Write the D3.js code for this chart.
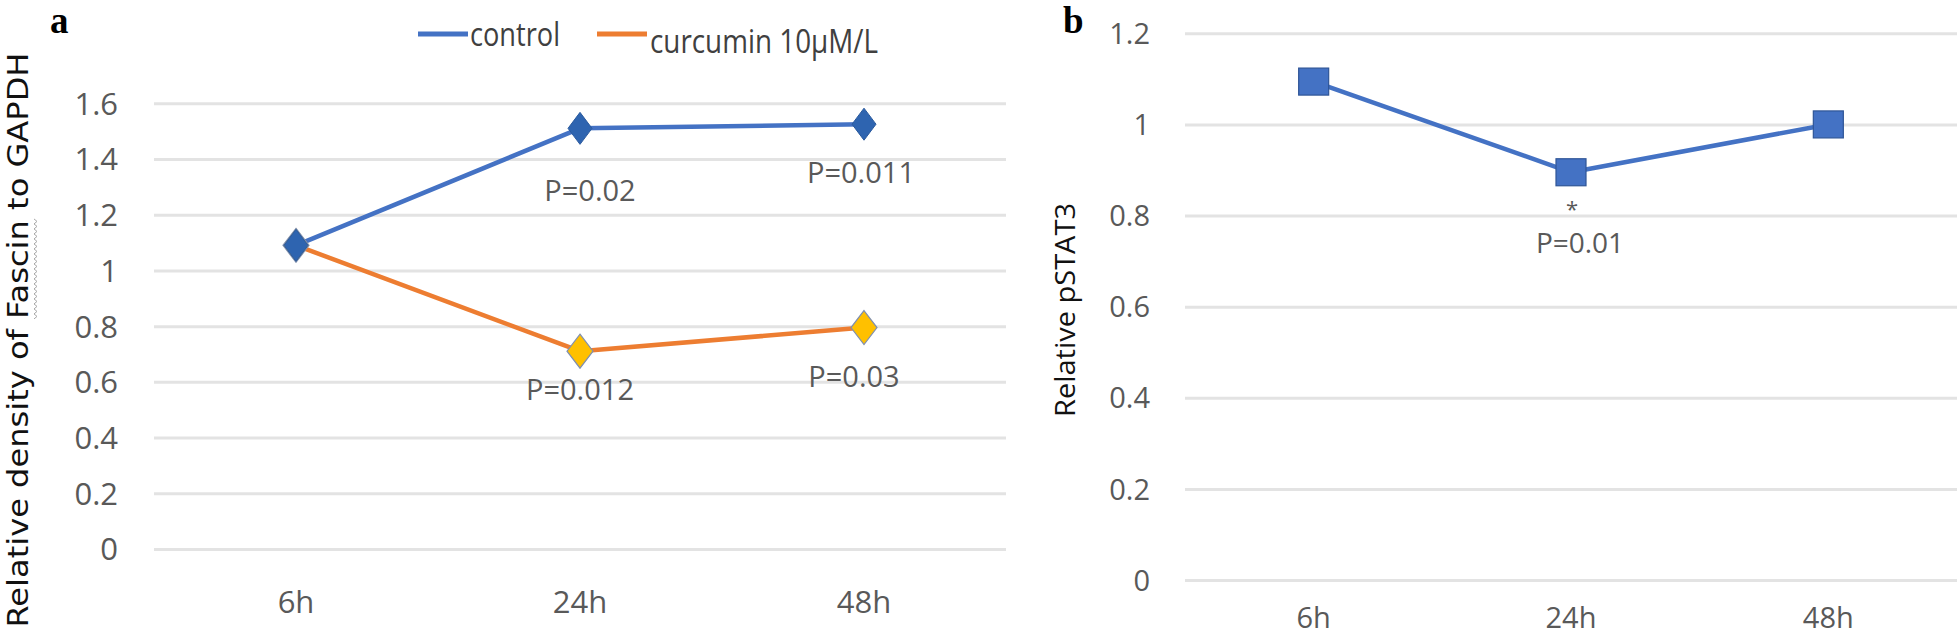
<!DOCTYPE html>
<html>
<head>
<meta charset="utf-8">
<script src="https://cdn.jsdelivr.net/npm/d3@7"></script>
<style>
  html, body { margin: 0; padding: 0; background: #fff; }
  svg { display: block; }
</style>
</head>
<body>
<svg id="chart" width="1960" height="637"></svg>
<script>
// ---------- data ----------
const categories = ["6h", "24h", "48h"];
const seriesNames = ["control", "curcumin 10\u03BCM/L"];
const controlValues = [1.09, 1.51, 1.525];
const curcuminValues = [1.09, 0.71, 0.795];
const pstat3Values = [1.094, 0.895, 1.0];
const yTicksA = [0, 0.2, 0.4, 0.6, 0.8, 1.0, 1.2, 1.4, 1.6];
const yTicksB = [0, 0.2, 0.4, 0.6, 0.8, 1.0, 1.2];
const pLabelsControl = ["", "P=0.02", "P=0.011"];
const pLabelsCurcumin = ["", "P=0.012", "P=0.03"];
const pLabelsB = ["", "P=0.01", ""];
const starLabelsB = ["", "*", ""];
const titleA = "Relative density of Fascin to GAPDH";
const titleB = "Relative pSTAT3";

// ---------- style ----------
const BLUE = "#4472C4", BLUE_DARK = "#2E64B0", ORANGE = "#ED7D31", YELLOW = "#FFC000";
const GRID = "#e3e3e3", TICK_TXT = "#595959";
const FONT = "'Open Sans', 'Noto Sans', sans-serif";

const svg = d3.select("#chart");
const fmt = d3.format(".1~f");

function drawPanel(opts) {
  const g = svg.append("g");
  const x = d3.scaleBand().domain(categories).range([opts.x0, opts.x1]);
  const y = d3.scaleLinear().domain(opts.yDomain).range([opts.y0, opts.y1]);
  const width = opts.x1 - opts.x0;

  const yAxis = g.append("g")
    .attr("transform", `translate(${opts.x0},0)`)
    .call(d3.axisLeft(y).tickValues(opts.ticks).tickFormat(fmt)
      .tickSizeInner(-width).tickSizeOuter(0).tickPadding(opts.tickPad));
  yAxis.select(".domain").remove();
  yAxis.selectAll(".tick line").attr("stroke", GRID).attr("stroke-width", 3);
  yAxis.selectAll(".tick text").attr("fill", TICK_TXT)
    .attr("font-family", FONT).attr("font-size", opts.tickFont).attr("dy", "0.35em");

  const xAxis = g.append("g")
    .attr("transform", `translate(0,${opts.y0})`)
    .call(d3.axisBottom(x).tickSize(0).tickPadding(opts.xPad));
  xAxis.select(".domain").remove();
  xAxis.selectAll(".tick text").attr("fill", TICK_TXT)
    .attr("font-family", FONT).attr("font-size", opts.tickFont).attr("dy", 0);

  return { g, x, y };
}

// ---------- panel a ----------
const A = drawPanel({ x0: 154, x1: 1006, y0: 549, y1: 103.3, yDomain: [0, 1.6],
  ticks: yTicksA, tickPad: 36, tickFont: 31, xPad: 64 });
const cx = (sc, c) => sc(c) + sc.bandwidth() / 2;
const line = (P, vals) => d3.line().x((d, i) => cx(P.x, categories[i])).y(d => P.y(d))(vals);

A.g.append("path").attr("d", line(A, curcuminValues)).attr("fill", "none")
  .attr("stroke", ORANGE).attr("stroke-width", 4.5).attr("stroke-linejoin", "round");
A.g.append("path").attr("d", line(A, controlValues)).attr("fill", "none")
  .attr("stroke", BLUE).attr("stroke-width", 4.5).attr("stroke-linejoin", "round");

const diamond = (w, h) => `M0,${-h}L${w},0L0,${h}L${-w},0Z`;
A.g.selectAll(".mCur").data(curcuminValues).join("path")
  .attr("transform", (d, i) => `translate(${cx(A.x, categories[i])},${A.y(d)})`)
  .attr("d", diamond(13, 17)).attr("fill", YELLOW).attr("stroke", "#7f8fb0").attr("stroke-width", 1.2);
A.g.selectAll(".mCon").data(controlValues).join("path")
  .attr("transform", (d, i) => `translate(${cx(A.x, categories[i])},${A.y(d)})`)
  .attr("d", diamond(12, 16)).attr("fill", BLUE_DARK).attr("stroke", "#2a5a9e").attr("stroke-width", 1);

// P-value annotations (offsets in px from the marker)
const ctrlOff = [[0, 0], [10, 73], [-3, 59]];
const curOff = [[0, 0], [0, 49], [-10, 59]];
A.g.selectAll(".pCon").data(pLabelsControl).join("text")
  .attr("x", (d, i) => cx(A.x, categories[i]) + ctrlOff[i][0])
  .attr("y", (d, i) => A.y(controlValues[i]) + ctrlOff[i][1])
  .attr("text-anchor", "middle").attr("font-family", FONT).attr("font-size", 29)
  .attr("fill", TICK_TXT).text(d => d);
A.g.selectAll(".pCur").data(pLabelsCurcumin).join("text")
  .attr("x", (d, i) => cx(A.x, categories[i]) + curOff[i][0])
  .attr("y", (d, i) => A.y(curcuminValues[i]) + curOff[i][1])
  .attr("text-anchor", "middle").attr("font-family", FONT).attr("font-size", 29)
  .attr("fill", TICK_TXT).text(d => d);

// legend
const legendItems = [
  { name: seriesNames[0], color: BLUE, lx: 418, tx: 470, ty: 46, tl: 90 },
  { name: seriesNames[1], color: ORANGE, lx: 597, tx: 650, ty: 53, tl: 228 }
];
legendItems.forEach(it => {
  svg.append("line").attr("x1", it.lx).attr("x2", it.lx + 50).attr("y1", 34).attr("y2", 34)
    .attr("stroke", it.color).attr("stroke-width", 5);
  svg.append("text").attr("x", it.tx).attr("y", it.ty).attr("font-family", FONT)
    .attr("font-size", 33).attr("fill", "#404040")
    .attr("textLength", it.tl).attr("lengthAdjust", "spacingAndGlyphs").text(it.name);
});

// y title a
const tA = svg.append("g").attr("transform", "translate(28,340) rotate(-90)");
const titleAText = tA.append("text").attr("text-anchor", "middle")
  .attr("font-family", "'DejaVu Sans', sans-serif").attr("font-size", 29).attr("fill", "#111")
  .attr("textLength", 575).attr("lengthAdjust", "spacingAndGlyphs").text(titleA);
// spell-check squiggle under "Fascin"
(function () {
  const node = titleAText.node();
  const idx = titleA.indexOf("Fascin");
  try {
    const s = node.getStartPositionOfChar(idx).x;
    const e = node.getEndPositionOfChar(idx + 5).x;
    let d = `M${s},6`;
    for (let px = s, k = 0; px < e; px += 2.5, k++) d += `L${px + 2.5},${k % 2 ? 6 : 9}`;
    tA.append("path").attr("d", d).attr("fill", "none").attr("stroke", "#a8a8a8").attr("stroke-width", 1);
  } catch (err) {}
})();

svg.append("text").attr("x", 50).attr("y", 33).attr("font-family", "'Liberation Serif', serif")
  .attr("font-weight", "bold").attr("font-size", 37).attr("fill", "#000").text("a");

// ---------- panel b ----------
const B = drawPanel({ x0: 1185, x1: 1957, y0: 580, y1: 33.3, yDomain: [0, 1.2],
  ticks: yTicksB, tickPad: 35, tickFont: 29, xPad: 48 });
B.g.append("path").attr("d", line(B, pstat3Values)).attr("fill", "none")
  .attr("stroke", BLUE).attr("stroke-width", 4.5).attr("stroke-linejoin", "round");
B.g.selectAll(".mB").data(pstat3Values).join("rect")
  .attr("x", (d, i) => cx(B.x, categories[i]) - 15)
  .attr("y", d => B.y(d) - 13.5)
  .attr("width", 30).attr("height", 27)
  .attr("fill", BLUE).attr("stroke", "#2F5597").attr("stroke-width", 1.2);
B.g.selectAll(".sB").data(starLabelsB).join("text")
  .attr("x", (d, i) => cx(B.x, categories[i]) + 1)
  .attr("y", (d, i) => B.y(pstat3Values[i]) + 45)
  .attr("text-anchor", "middle").attr("font-family", FONT).attr("font-size", 22)
  .attr("fill", TICK_TXT).text(d => d);
B.g.selectAll(".pB").data(pLabelsB).join("text")
  .attr("x", (d, i) => cx(B.x, categories[i]) + 9)
  .attr("y", (d, i) => B.y(pstat3Values[i]) + 81)
  .attr("text-anchor", "middle").attr("font-family", FONT).attr("font-size", 28)
  .attr("fill", TICK_TXT).text(d => d);

svg.append("g").attr("transform", "translate(1075,310) rotate(-90)")
  .append("text").attr("text-anchor", "middle").attr("font-family", FONT)
  .attr("font-size", 28).attr("fill", "#111")
  .attr("textLength", 214).attr("lengthAdjust", "spacingAndGlyphs").text(titleB);

svg.append("text").attr("x", 1063).attr("y", 33).attr("font-family", "'Liberation Serif', serif")
  .attr("font-weight", "bold").attr("font-size", 37).attr("fill", "#000").text("b");
</script>
</body>
</html>
